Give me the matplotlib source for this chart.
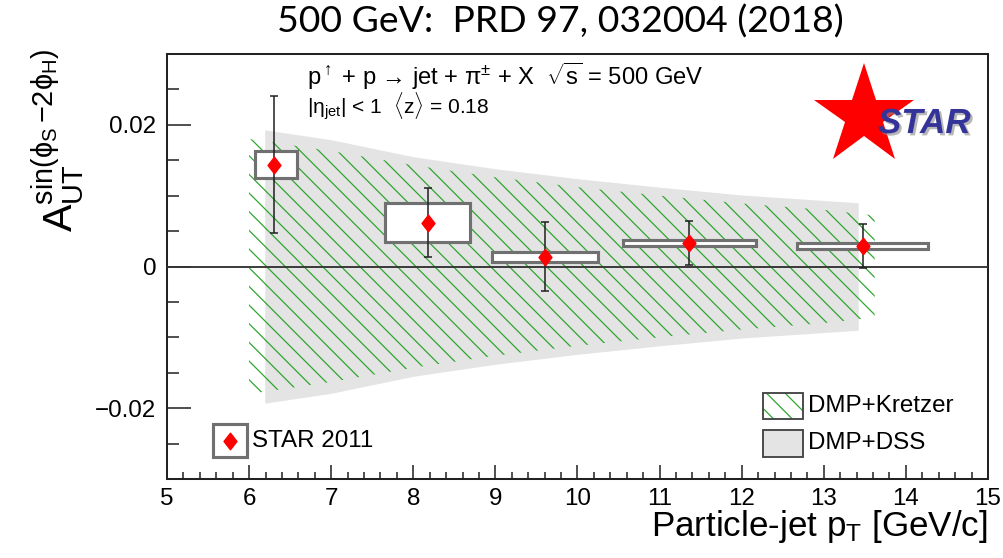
import matplotlib
matplotlib.use("Agg")
import matplotlib.pyplot as plt
import matplotlib.patheffects as pe
from matplotlib.patches import Rectangle
from matplotlib.path import Path
from matplotlib.ticker import MultipleLocator, FixedLocator

plt.rcParams['font.family'] = ['Liberation Sans', 'DejaVu Sans']
plt.rcParams['mathtext.fontset'] = 'custom'
plt.rcParams['mathtext.rm'] = 'Liberation Sans'
plt.rcParams['mathtext.it'] = 'Liberation Sans:italic'
plt.rcParams['mathtext.sf'] = 'Liberation Sans'
plt.rcParams['mathtext.bf'] = 'Liberation Sans:bold'
plt.rcParams['hatch.linewidth'] = 0.8
plt.rcParams['hatch.color'] = '#2ea62e'

# STAR 2011 points: asymmetry vs particle-jet pT
pt = [6.30, 8.18, 9.60, 11.36, 13.48]
a_ut = [0.0144, 0.0062, 0.0014, 0.0033, 0.0029]
stat_err = [0.0097, 0.0049, 0.0049, 0.0031, 0.0031]
# systematic boxes: pT range and half height
box_lo = [6.07, 7.66, 8.96, 10.55, 12.67]
box_hi = [6.58, 8.69, 10.25, 12.17, 14.27]
sys_err = [0.0019, 0.0027, 0.0007, 0.0004, 0.0004]

# model bands (symmetric around zero)
dss_pt = [6.19, 7.0, 8.0, 9.0, 10.0, 11.0, 12.0, 13.42]
dss_hw = [0.0193, 0.0179, 0.0155, 0.0138, 0.0124, 0.0112, 0.0101, 0.0090]
kretzer_pt = [6.0, 7.0, 8.0, 9.0, 10.0, 11.0, 12.0, 13.0, 13.62]
kretzer_hw = [0.0180, 0.0163, 0.0143, 0.0126, 0.0112, 0.0100, 0.0089, 0.0080, 0.0072]

y_ticks = [-0.02, 0.0, 0.02]
y_ticklabels = ['\u22120.02', '0', '0.02']

red = '#ff0000'
green = '#2ea62e'
box_edge = '#707070'

diamond = Path([(0, 1), (0.78, 0), (0, -1), (-0.78, 0), (0, 1)],
               [Path.MOVETO, Path.LINETO, Path.LINETO, Path.LINETO, Path.CLOSEPOLY])

fig = plt.figure(figsize=(1003 / 112, 558 / 112), dpi=112)
ax = fig.add_axes([0.1665, 0.1416, 0.8185, 0.7616])

ax.fill_between(dss_pt, [-h for h in dss_hw], dss_hw, color='#e4e4e4', lw=0, zorder=1)
ax.fill_between(kretzer_pt, [-h for h in kretzer_hw], kretzer_hw, facecolor='none',
                edgecolor=green, hatch='\\\\', lw=0, zorder=2)
ax.axhline(0, color='#333333', lw=1.2, zorder=3)

for lo, hi, y, s in zip(box_lo, box_hi, a_ut, sys_err):
    ax.add_patch(Rectangle((lo, y - s), hi - lo, 2 * s, facecolor='white',
                           edgecolor=box_edge, lw=2.0, zorder=4))

ax.errorbar(pt, a_ut, yerr=stat_err, fmt='none', ecolor='#222222', elinewidth=1.0,
            capsize=2.5, capthick=1.0, zorder=5)
ax.plot(pt, a_ut, ls='none', marker=diamond, ms=10.5, color=red, mec=red, zorder=6)

ax.set_xlim(5, 15)
ax.set_ylim(-0.03, 0.03)
ax.xaxis.set_major_locator(MultipleLocator(1))
ax.xaxis.set_minor_locator(MultipleLocator(0.2))
ax.yaxis.set_major_locator(FixedLocator(y_ticks))
ax.yaxis.set_minor_locator(MultipleLocator(0.005))
ax.set_yticklabels(y_ticklabels)
ax.tick_params(direction='in', top=False, right=False, labelsize=15.5, width=1.0,
               color='#222222', which='both')
ax.tick_params(axis='y', which='major', length=15.5, pad=7)
ax.tick_params(axis='y', which='minor', length=7.7)
ax.tick_params(axis='x', which='major', length=9, pad=6)
ax.tick_params(axis='x', which='minor', length=4.5)
for sp in ax.spines.values():
    sp.set_linewidth(1.3)
    sp.set_color('#222222')

# axis titles
ax.text(1.0, -0.135, r'Particle-jet p$_{\mathrm{T}}$ [GeV/c]', transform=ax.transAxes,
        ha='right', va='baseline', fontsize=22.5)
fig.text(0.058, 0.748,
         r'$\mathrm{A}_{\mathrm{UT}}^{\mathrm{sin}(\mathrm{\phi}_{\mathrm{S}}\,\mathrm{-2}\mathrm{\phi}_{\mathrm{H}})}$',
         rotation=90, ha='center', va='center', fontsize=26.5)

# process description
ax.text(0.1705, 0.927,
        'p$^{\\uparrow}$ + p \u2192 jet + $\\mathrm{\\pi}^{\\pm}$ + X  $\\sqrt{\\mathrm{s}}$ = 500 GeV',
        transform=ax.transAxes, ha='left', va='baseline', fontsize=15.3)
ax.text(0.1705, 0.86, r'|$\mathrm{\eta}_{\mathrm{jet}}$| < 1  $\langle$z$\rangle$ = 0.18',
        transform=ax.transAxes, ha='left', va='baseline', fontsize=13.5)

# STAR logo
ax.plot(0.849, 0.854, marker='*', ms=68, color=red, mec=red, mew=0,
        transform=ax.transAxes, clip_on=False, zorder=7)
ax.text(0.866, 0.814, 'STAR', transform=ax.transAxes, ha='left', va='baseline',
        fontsize=22.5, fontweight='bold', fontstyle='italic', color='#333399', zorder=8,
        path_effects=[pe.withSimplePatchShadow(offset=(1.5, -1.5), shadow_rgbFace='#888888', alpha=0.6)])

# legends
ax.add_patch(Rectangle((0.056, 0.052), 0.0414, 0.077, transform=ax.transAxes,
                       facecolor='white', edgecolor=box_edge, lw=2.0, zorder=7))
ax.plot(0.0767, 0.0894, ls='none', marker=diamond, ms=10.5, color=red, mec=red,
        transform=ax.transAxes, zorder=8)
ax.text(0.1035, 0.0894, 'STAR 2011', transform=ax.transAxes, ha='left', va='center',
        fontsize=15.5)

ax.add_patch(Rectangle((0.726, 0.141), 0.049, 0.061, transform=ax.transAxes,
                       facecolor='white', edgecolor=green, hatch='\\\\', lw=0, zorder=7))
ax.add_patch(Rectangle((0.726, 0.141), 0.049, 0.061, transform=ax.transAxes,
                       facecolor='none', edgecolor='#444444', lw=1.2, zorder=8))
ax.text(0.781, 0.172, 'DMP+Kretzer', transform=ax.transAxes, ha='left', va='center',
        fontsize=15.5)
ax.add_patch(Rectangle((0.726, 0.052), 0.049, 0.063, transform=ax.transAxes,
                       facecolor='#e4e4e4', edgecolor='#444444', lw=1.2, zorder=7))
ax.text(0.781, 0.0847, 'DMP+DSS', transform=ax.transAxes, ha='left', va='center',
        fontsize=15.5)

fig.text(0.559, 1 - 22 / 558, '500 GeV:  PRD 97, 032004 (2018)', ha='center', va='center',
         fontsize=24, family='Lato')

fig.savefig('out.png', dpi=112)
